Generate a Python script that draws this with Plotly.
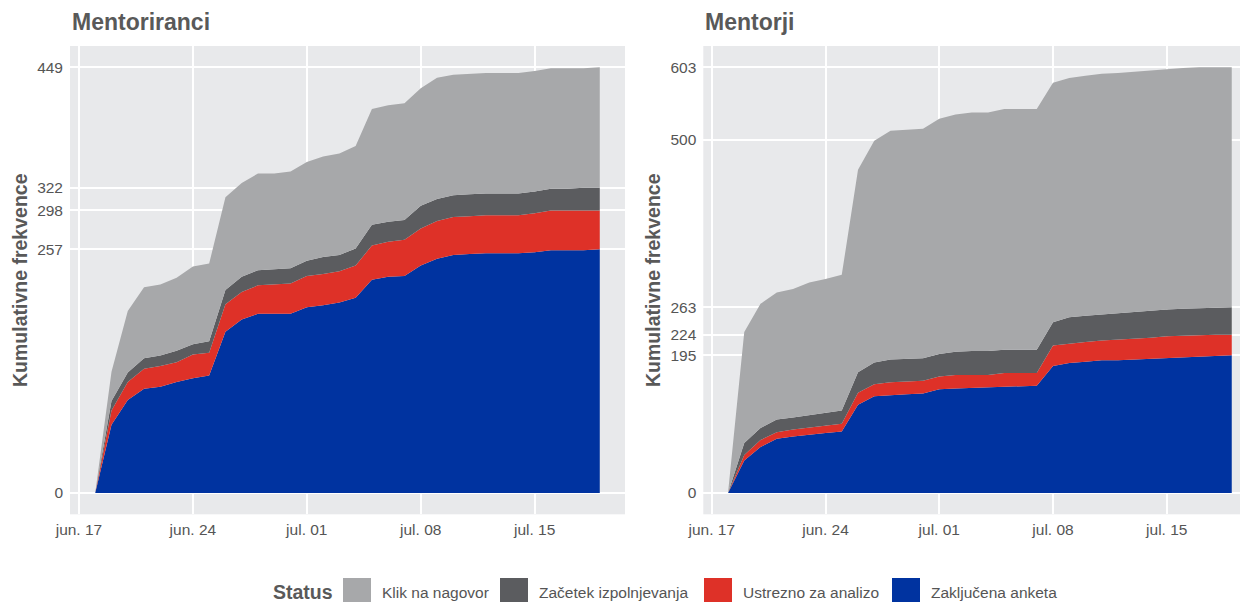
import plotly.graph_objects as go
import pandas as pd

# ---------------- data ----------------
start_date = "2023-06-18"
n_days = 32
dates = pd.date_range(start_date, periods=n_days, freq="D")

statuses = ["Klik na nagovor", "Začetek izpolnjevanja", "Ustrezno za analizo", "Zaključena anketa"]
status_colors = ["#A7A8AA", "#5B5C5F", "#DE3128", "#0033A0"]

# Mentoriranci (cumulative counts per status)
mentee_zakljucena = [0, 72, 98, 110, 112, 117, 121, 124, 170, 183, 189, 189, 189, 196, 198, 201,
                     206, 225, 228, 229, 240, 247, 251, 252, 253, 253, 253, 254, 256, 256, 256, 257]
mentee_ustrezno = [0, 15, 19, 21, 22, 21, 25, 24, 29, 29, 30, 31, 32, 33, 33, 33,
                   34, 36, 37, 38, 39, 40, 40, 40, 40, 40, 40, 41, 42, 42, 42, 41]
mentee_zacetek = [0, 10, 10, 11, 11, 12, 11, 12, 15, 16, 16, 16, 16, 16, 18, 17,
                  18, 22, 21, 21, 24, 23, 23, 23, 23, 23, 23, 23, 23, 23, 24, 24]
mentee_klik = [0, 31, 65, 75, 75, 77, 82, 82, 98, 99, 102, 101, 102, 104, 106, 107,
               108, 122, 123, 123, 124, 128, 127, 127, 127, 127, 127, 127, 127, 127, 126, 127]

# Mentorji (cumulative counts per status)
mentor_zakljucena = [0, 46, 65, 77, 80, 83, 85, 87, 125, 137, 139, 140, 141, 147, 148, 149,
                     149, 151, 152, 152, 180, 184, 186, 188, 188, 189, 191, 192, 193, 194, 195, 195]
mentor_ustrezno = [0, 8, 10, 9, 10, 10, 11, 11, 17, 17, 18, 18, 18, 18, 19, 18,
                   18, 19, 18, 18, 29, 28, 28, 28, 29, 29, 29, 30, 30, 30, 29, 29]
mentor_zacetek = [0, 17, 17, 18, 17, 17, 17, 19, 29, 31, 32, 32, 32, 32, 33, 34,
                  34, 33, 33, 33, 33, 37, 37, 37, 37, 38, 38, 38, 38, 38, 39, 39]
mentor_klik = [0, 157, 176, 180, 182, 188, 190, 192, 287, 314, 324, 324, 325, 333, 336, 338,
               338, 341, 341, 341, 339, 339, 340, 341, 341, 341, 340, 340, 341, 341, 340, 340]

mentee_yticks = [0, 257, 298, 322, 449]
mentor_yticks = [0, 195, 224, 263, 500, 603]

x_tickvals = ["2023-06-17", "2023-06-24", "2023-07-01", "2023-07-08", "2023-07-15"]
x_ticktext = ["jun. 17", "jun. 24", "jul. 01", "jul. 08", "jul. 15"]

panel_titles = ["Mentoriranci", "Mentorji"]
y_title = "Kumulativne frekvence"
legend_title = "Status"

# ---------------- figure ----------------
# the page body adds an 8px margin; the figure is sized so it fills the 1248x602 window
PAGE_OFF = 8
W, H = 1248 - PAGE_OFF, 602 - PAGE_OFF
FONT = "Liberation Sans, Arial, Helvetica, sans-serif"
TXT = "#595959"
TICK = "#555555"
PANEL_BG = "#E8E9EB"

fig = go.Figure()

panels = [
    ("x", "y", [mentee_klik, mentee_zacetek, mentee_ustrezno, mentee_zakljucena]),
    ("x2", "y2", [mentor_klik, mentor_zacetek, mentor_ustrezno, mentor_zakljucena]),
]
for xa, ya, series in panels:
    # bottom of stack first: Zaključena, Ustrezno, Začetek, Klik
    for idx in [3, 2, 1, 0]:
        fig.add_trace(go.Scatter(
            x=dates, y=series[idx], name=statuses[idx],
            mode="lines", line=dict(width=0, color=status_colors[idx]),
            fillcolor=status_colors[idx], stackgroup="s" + xa,
            xaxis=xa, yaxis=ya, showlegend=False, hoverinfo="skip",
        ))


def px_x(p):
    return (p - PAGE_OFF) / W


def px_y(p):
    return 1 - (p - PAGE_OFF) / H


y_dom = [px_y(514.3), px_y(46)]

common_x = dict(type="date", tickvals=x_tickvals, ticktext=x_ticktext, showgrid=True,
                gridcolor="white", gridwidth=1.6, zeroline=False, showline=False, ticks="",
                automargin=False,
                tickfont=dict(family=FONT, size=15.5, color=TICK), ticklabelstandoff=4)
common_y = dict(showgrid=True, gridcolor="white", gridwidth=1.6, zeroline=False, showline=False,
                ticks="", automargin=False,
                tickfont=dict(family=FONT, size=15.5, color=TICK), ticklabelstandoff=6)

fig.update_layout(
    template="none",
    width=W, height=H,
    margin=dict(l=0, r=0, t=0, b=0, pad=0, autoexpand=False),
    paper_bgcolor="white", plot_bgcolor=PANEL_BG,
    showlegend=False,
    xaxis=dict(domain=[px_x(70), px_x(625)], range=["2023-06-16 10:48", "2023-07-20 13:12"],
               anchor="y", **common_x),
    yaxis=dict(domain=y_dom, range=[-22.45, 471.45], tickvals=mentee_yticks, anchor="x", **common_y),
    xaxis2=dict(domain=[px_x(703.3), 1.0], range=["2023-06-16 11:30", "2023-07-20 00:00"],
                anchor="y2", **common_x),
    yaxis2=dict(domain=y_dom, range=[-30.15, 633.15], tickvals=mentor_yticks, anchor="x2", **common_y),
)

annotations = []
# panel titles
for title, xl in zip(panel_titles, [70, 703]):
    annotations.append(dict(text="<b>%s</b>" % title, xref="paper", yref="paper",
                            x=px_x(xl), y=px_y(22), xanchor="left", yanchor="middle",
                            showarrow=False, font=dict(family=FONT, size=23, color=TXT)))
# y-axis titles
for xc in [20, 653]:
    annotations.append(dict(text="<b>%s</b>" % y_title, xref="paper", yref="paper",
                            x=px_x(xc), y=px_y(280), xanchor="center", yanchor="middle",
                            textangle=-90, showarrow=False,
                            font=dict(family=FONT, size=19.5, color=TXT)))

# legend (drawn manually to get large ggplot-style keys)
leg_y = 592
annotations.append(dict(text="<b>%s</b>" % legend_title, xref="paper", yref="paper",
                        x=px_x(271), y=px_y(leg_y), xanchor="left", yanchor="middle",
                        showarrow=False, font=dict(family=FONT, size=19.5, color=TXT)))
key_x = [343, 500, 704, 892]
shapes = []
for name, col, kx in zip(statuses, status_colors, key_x):
    shapes.append(dict(type="rect", xref="paper", yref="paper",
                       x0=px_x(kx), x1=px_x(kx + 28), y0=px_y(leg_y + 14), y1=px_y(leg_y - 14),
                       fillcolor=col, line=dict(width=0)))
    annotations.append(dict(text=name, xref="paper", yref="paper",
                            x=px_x(kx + 37), y=px_y(leg_y), xanchor="left", yanchor="middle",
                            showarrow=False, font=dict(family=FONT, size=15.5, color=TICK)))

fig.update_layout(annotations=annotations, shapes=shapes)

fig.write_html("out.html")
